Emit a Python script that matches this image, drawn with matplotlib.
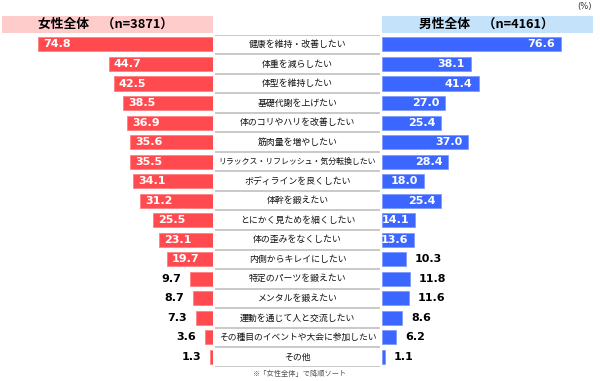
import matplotlib
matplotlib.use("Agg")
import matplotlib.pyplot as plt
import matplotlib.patches as patches
import numpy as np

plt.rcParams["font.family"] = ["DejaVu Sans", "Noto Sans CJK JP"]

items = [
    "健康を維持・改善したい", "体重を減らしたい", "体型を維持したい", "基礎代謝を上げたい",
    "体のコリやハリを改善したい", "筋肉量を増やしたい", "リラックス・リフレッシュ・気分転換したい",
    "ボディラインを良くしたい", "体幹を鍛えたい", "とにかく見ためを細くしたい",
    "体の歪みをなくしたい", "内側からキレイにしたい", "特定のパーツを鍛えたい",
    "メンタルを鍛えたい", "運動を通じて人と交流したい", "その種目のイベントや大会に参加したい",
    "その他",
]
women = [74.8, 44.7, 42.5, 38.5, 36.9, 35.6, 35.5, 34.1, 31.2, 25.5, 23.1, 19.7, 9.7, 8.7, 7.3, 3.6, 1.3]
men = [76.6, 38.1, 41.4, 27.0, 25.4, 37.0, 28.4, 18.0, 25.4, 14.1, 13.6, 10.3, 11.8, 11.6, 8.6, 6.2, 1.1]
women_title = "女性全体　（n=3871）"
men_title = "男性全体　（n=4161）"

RED = "#FF4B4F"
BLUE = "#3B66FF"
W, H = 600, 381
px_per_unit = 2.335
inside_min = 12

fig = plt.figure(figsize=(6, 3.81), dpi=100)


# pixel helpers (from top-left)
def fx(px):
    return px / W


def fy(py):
    return 1 - py / H


top, bottom = 34.7, 366.7
ax_y = fy(bottom)
ax_h = (bottom - top) / H
y = np.arange(len(items))
bar_h = 0.72

# women (left, reversed)
ax_w = fig.add_axes([0, ax_y, fx(213), ax_h])
ax_w.barh(y, women, height=bar_h, color=RED, edgecolor="#FF8080", linewidth=0.6)
ax_w.set_xlim(213 / px_per_unit, 0)
ax_w.set_ylim(len(items) - 0.5, -0.5)
ax_w.axis("off")
for i, v in enumerate(women):
    if v >= inside_min:
        ax_w.annotate(f"{v:.1f}", (v, i), xytext=(3.6, 0), textcoords="offset points",
                      ha="left", va="center", color="white", fontsize=8, fontweight="bold")
    else:
        ax_w.annotate(f"{v:.1f}", (v, i), xytext=(-6.5, 0), textcoords="offset points",
                      ha="right", va="center", color="black", fontsize=8, fontweight="bold")

# men (right)
ax_m = fig.add_axes([fx(382), ax_y, 1 - fx(382), ax_h])
ax_m.barh(y, men, height=bar_h, color=BLUE, edgecolor="#7F9BFF", linewidth=0.6)
ax_m.set_xlim(0, (W - 382) / px_per_unit)
ax_m.set_ylim(len(items) - 0.5, -0.5)
ax_m.axis("off")
for i, v in enumerate(men):
    if v >= inside_min:
        ax_m.annotate(f"{v:.1f}", (v, i), xytext=(-4.3, 0), textcoords="offset points",
                      ha="right", va="center", color="white", fontsize=8, fontweight="bold")
    else:
        ax_m.annotate(f"{v:.1f}", (v, i), xytext=(6.5, 0), textcoords="offset points",
                      ha="left", va="center", color="black", fontsize=8, fontweight="bold")

# center labels
ax_c = fig.add_axes([fx(215), ax_y, fx(380) - fx(215), ax_h])
ax_c.set_xlim(0, 1)
ax_c.set_ylim(len(items) - 0.5, -0.5)
ax_c.axis("off")
for b in np.arange(len(items) + 1) - 0.5:
    ax_c.axhline(b, color="#C0C0C0", linewidth=1.2)

renderer = fig.canvas.get_renderer()
max_w = 158  # px
for i, lab in enumerate(items):
    t = ax_c.text(0.5, i, lab, ha="center", va="center", fontsize=6.4,
                  family=["Noto Sans CJK JP"], color="#111111")
    w = t.get_window_extent(renderer).width
    if w > max_w:
        t.set_fontsize(6.4 * max_w / w)

# headers
fig.patches.append(patches.Rectangle((fx(2), fy(33)), fx(211), 17 / H,
                                     transform=fig.transFigure, facecolor="#FFCCCC",
                                     edgecolor="none"))
fig.patches.append(patches.Rectangle((fx(382), fy(33)), fx(211), 17 / H,
                                     transform=fig.transFigure, facecolor="#C4E2FA",
                                     edgecolor="none"))
fig.text(fx(106), fy(24.5), women_title, ha="center", va="center", fontsize=9.2,
         fontweight="bold", family=["Noto Sans CJK JP"])
fig.text(fx(486), fy(24.5), men_title, ha="center", va="center", fontsize=9.2,
         fontweight="bold", family=["Noto Sans CJK JP"])

fig.text(fx(584), fy(7), "(%)", ha="center", va="center", fontsize=6, color="#333333")
fig.text(fx(300), fy(374), "※「女性全体」で降順ソート", ha="center", va="center",
         fontsize=5.2, color="#555555", family=["Noto Sans CJK JP"])

fig.savefig("out.png", dpi=100)
